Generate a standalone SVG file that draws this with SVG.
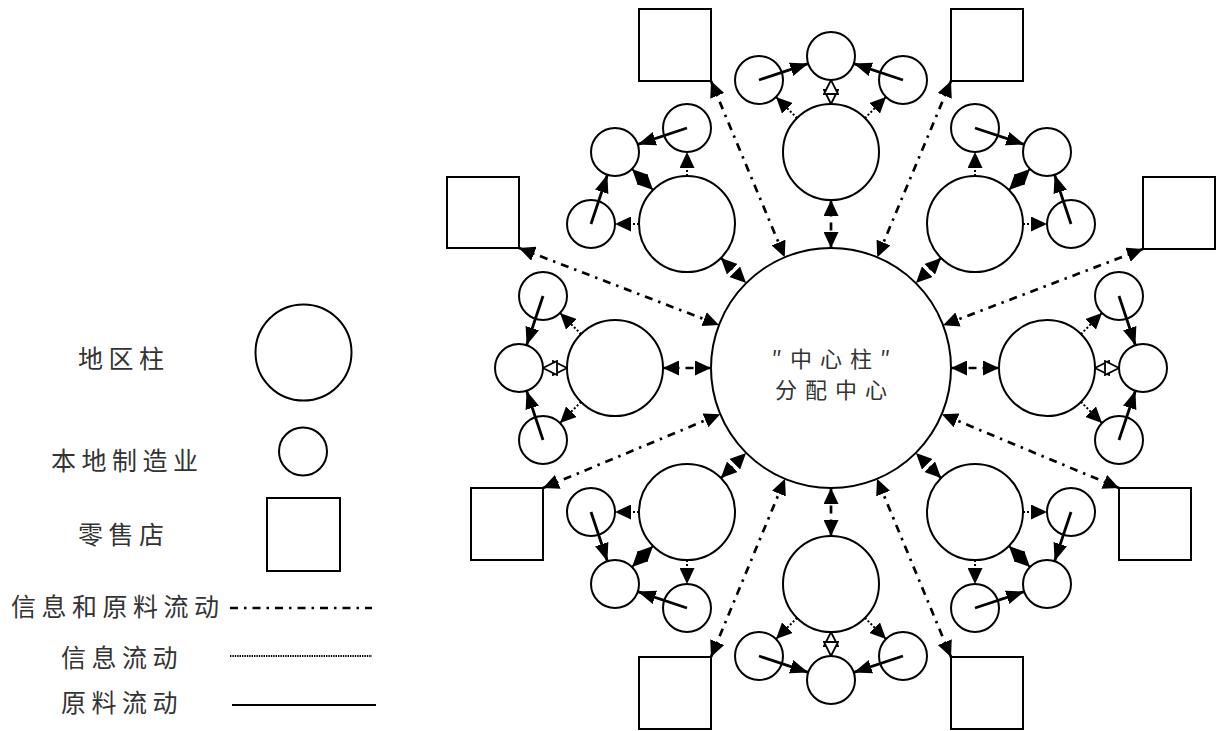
<svg xmlns="http://www.w3.org/2000/svg" width="1221" height="731" viewBox="0 0 1221 731">
<style>
.c{fill:#fff;stroke:#000;stroke-width:2}
.sq{fill:#fff;stroke:#000;stroke-width:2}
.t{font-family:"Noto Sans CJK SC","Noto Sans",sans-serif;font-size:25px;fill:#333;letter-spacing:5.5px}
.ct{font-family:"Noto Sans CJK SC","Noto Sans",sans-serif;font-size:22px;fill:#333;letter-spacing:8px;text-anchor:middle}
.dd{fill:none;stroke:#000;stroke-width:2.7;stroke-dasharray:8 6 2.5 6}
.dda{marker-start:url(#ah);marker-end:url(#ah)}
.inf{fill:none;stroke:#000;stroke-width:2;stroke-dasharray:2 2}
.infa{marker-end:url(#ah)}
.infb{marker-start:url(#ah);marker-end:url(#ah)}
.infh{marker-start:url(#hx);marker-end:url(#hx)}
.mat{fill:none;stroke:#000;stroke-width:2.8;marker-end:url(#am)}
.lg{fill:none;stroke:#000;stroke-width:2.2}
</style>
<defs>
<marker id="ah" viewBox="0 0 16 15" refX="16" refY="7.5" markerWidth="16" markerHeight="15" markerUnits="userSpaceOnUse" orient="auto-start-reverse"><path d="M0,0 L16,7.5 L0,15 z" fill="#000"/></marker>
<marker id="am" viewBox="0 0 18 14" refX="18" refY="7" markerWidth="18" markerHeight="14" markerUnits="userSpaceOnUse" orient="auto"><path d="M0,0 L18,7 L0,14 z" fill="#000"/></marker>
<marker id="hx" viewBox="0 0 16 16" refX="15" refY="8" markerWidth="16" markerHeight="16" markerUnits="userSpaceOnUse" orient="auto-start-reverse"><path d="M1,1 L15,8 L1,15 z" fill="#fff" stroke="#000" stroke-width="1.8"/></marker>
</defs>
<rect width="1221" height="731" fill="#fff"/>

<g id="center">
<circle class="c" cx="831" cy="368" r="120"/>
<text class="ct" x="835" y="367">″中心柱″</text>
<text class="ct" x="835" y="398">分配中心</text>
</g>

<g id="region-t"><circle class="c" cx="831" cy="152" r="48"/></g>
<g id="region-b"><circle class="c" cx="831" cy="584" r="48"/></g>
<g id="region-l"><circle class="c" cx="615" cy="368" r="48"/></g>
<g id="region-r"><circle class="c" cx="1047" cy="368" r="48"/></g>
<g id="region-tl"><circle class="c" cx="687" cy="224" r="48"/></g>
<g id="region-tr"><circle class="c" cx="975" cy="224" r="48"/></g>
<g id="region-bl"><circle class="c" cx="687" cy="512" r="48"/></g>
<g id="region-br"><circle class="c" cx="975" cy="512" r="48"/></g>

<g id="mfg-t1"><circle class="c" cx="831" cy="56" r="24"/></g>
<g id="mfg-t2"><circle class="c" cx="759" cy="80" r="24"/></g>
<g id="mfg-t3"><circle class="c" cx="903" cy="80" r="24"/></g>
<g id="mfg-b1"><circle class="c" cx="831" cy="680" r="24"/></g>
<g id="mfg-b2"><circle class="c" cx="759" cy="656" r="24"/></g>
<g id="mfg-b3"><circle class="c" cx="903" cy="656" r="24"/></g>
<g id="mfg-l1"><circle class="c" cx="519" cy="368" r="24"/></g>
<g id="mfg-l2"><circle class="c" cx="543" cy="296" r="24"/></g>
<g id="mfg-l3"><circle class="c" cx="543" cy="440" r="24"/></g>
<g id="mfg-r1"><circle class="c" cx="1143" cy="368" r="24"/></g>
<g id="mfg-r2"><circle class="c" cx="1119" cy="296" r="24"/></g>
<g id="mfg-r3"><circle class="c" cx="1119" cy="440" r="24"/></g>
<g id="mfg-tl1"><circle class="c" cx="615" cy="152" r="24"/></g>
<g id="mfg-tl2"><circle class="c" cx="687" cy="128" r="24"/></g>
<g id="mfg-tl3"><circle class="c" cx="591" cy="224" r="24"/></g>
<g id="mfg-tr1"><circle class="c" cx="1047" cy="152" r="24"/></g>
<g id="mfg-tr2"><circle class="c" cx="975" cy="128" r="24"/></g>
<g id="mfg-tr3"><circle class="c" cx="1071" cy="224" r="24"/></g>
<g id="mfg-bl1"><circle class="c" cx="615" cy="584" r="24"/></g>
<g id="mfg-bl2"><circle class="c" cx="591" cy="512" r="24"/></g>
<g id="mfg-bl3"><circle class="c" cx="687" cy="608" r="24"/></g>
<g id="mfg-br1"><circle class="c" cx="1047" cy="584" r="24"/></g>
<g id="mfg-br2"><circle class="c" cx="1071" cy="512" r="24"/></g>
<g id="mfg-br3"><circle class="c" cx="975" cy="608" r="24"/></g>

<g id="store-tl"><rect class="sq" x="639" y="9" width="72" height="72"/></g>
<g id="store-tr"><rect class="sq" x="951" y="9" width="72" height="72"/></g>
<g id="store-bl"><rect class="sq" x="639" y="657" width="72" height="72"/></g>
<g id="store-br"><rect class="sq" x="951" y="657" width="72" height="72"/></g>
<g id="store-lu"><rect class="sq" x="447" y="177" width="72" height="71"/></g>
<g id="store-ll"><rect class="sq" x="471" y="488" width="72" height="72"/></g>
<g id="store-ru"><rect class="sq" x="1143" y="177" width="72" height="72"/></g>
<g id="store-rl"><rect class="sq" x="1119" y="488" width="72" height="72"/></g>

<g id="connectors">
<line class="dd dda" x1="831" y1="200" x2="831" y2="248"/>
<line class="dd dda" x1="831" y1="536" x2="831" y2="488"/>
<line class="dd dda" x1="663" y1="368" x2="711" y2="368"/>
<line class="dd dda" x1="999" y1="368" x2="951" y2="368"/>
<line class="dd dda" x1="720.9" y1="257.9" x2="746.1" y2="283.1"/>
<line class="dd dda" x1="941.1" y1="257.9" x2="915.9" y2="283.1"/>
<line class="dd dda" x1="720.9" y1="478.1" x2="746.1" y2="452.9"/>
<line class="dd dda" x1="941.1" y1="478.1" x2="915.9" y2="452.9"/>
<line class="dd dda" x1="711" y1="81" x2="784.7" y2="257.3"/>
<line class="dd dda" x1="951" y1="81" x2="877.3" y2="257.3"/>
<line class="dd dda" x1="711" y1="657" x2="785" y2="478.8"/>
<line class="dd dda" x1="951" y1="657" x2="877" y2="478.8"/>
<line class="dd dda" x1="519" y1="248" x2="719" y2="324.9"/>
<line class="dd dda" x1="543" y1="488" x2="720.2" y2="414.2"/>
<line class="dd dda" x1="1143" y1="249" x2="943.1" y2="325.2"/>
<line class="dd dda" x1="1119" y1="488" x2="941.8" y2="414.2"/>
<line class="mat" x1="759" y1="80" x2="808.2" y2="63.6"/>
<line class="mat" x1="903" y1="80" x2="853.8" y2="63.6"/>
<line class="mat" x1="759" y1="656" x2="808.2" y2="672.4"/>
<line class="mat" x1="903" y1="656" x2="853.8" y2="672.4"/>
<line class="mat" x1="543" y1="296" x2="526.6" y2="345.2"/>
<line class="mat" x1="543" y1="440" x2="526.6" y2="390.8"/>
<line class="mat" x1="1119" y1="296" x2="1135.4" y2="345.2"/>
<line class="mat" x1="1119" y1="440" x2="1135.4" y2="390.8"/>
<line class="mat" x1="687" y1="128" x2="637.8" y2="144.4"/>
<line class="mat" x1="591" y1="224" x2="607.4" y2="174.8"/>
<line class="mat" x1="975" y1="128" x2="1024.2" y2="144.4"/>
<line class="mat" x1="1071" y1="224" x2="1054.6" y2="174.8"/>
<line class="mat" x1="591" y1="512" x2="607.4" y2="561.2"/>
<line class="mat" x1="687" y1="608" x2="637.8" y2="591.6"/>
<line class="mat" x1="1071" y1="512" x2="1054.6" y2="561.2"/>
<line class="mat" x1="975" y1="608" x2="1024.2" y2="591.6"/>
<line class="inf infa" x1="797.1" y1="118.1" x2="776" y2="97"/>
<line class="inf infa" x1="864.9" y1="118.1" x2="886" y2="97"/>
<line class="inf infa" x1="797.1" y1="617.9" x2="776" y2="639"/>
<line class="inf infa" x1="864.9" y1="617.9" x2="886" y2="639"/>
<line class="inf infa" x1="581.1" y1="334.1" x2="560" y2="313"/>
<line class="inf infa" x1="581.1" y1="401.9" x2="560" y2="423"/>
<line class="inf infa" x1="1080.9" y1="334.1" x2="1102" y2="313"/>
<line class="inf infa" x1="1080.9" y1="401.9" x2="1102" y2="423"/>
<line class="inf infa" x1="687" y1="176" x2="687" y2="152"/>
<line class="inf infa" x1="639" y1="224" x2="615" y2="224"/>
<line class="inf infa" x1="975" y1="176" x2="975" y2="152"/>
<line class="inf infa" x1="1023" y1="224" x2="1047" y2="224"/>
<line class="inf infa" x1="639" y1="512" x2="615" y2="512"/>
<line class="inf infa" x1="687" y1="560" x2="687" y2="584"/>
<line class="inf infa" x1="1023" y1="512" x2="1047" y2="512"/>
<line class="inf infa" x1="975" y1="560" x2="975" y2="584"/>
<line class="inf infh" x1="831" y1="104" x2="831" y2="80"/>
<line class="inf infh" x1="831" y1="632" x2="831" y2="656"/>
<line class="inf infh" x1="567" y1="368" x2="543" y2="368"/>
<line class="inf infh" x1="1095" y1="368" x2="1119" y2="368"/>
<line class="inf infb" x1="653.1" y1="190.1" x2="632" y2="169"/>
<line class="inf infb" x1="1008.9" y1="190.1" x2="1030" y2="169"/>
<line class="inf infb" x1="653.1" y1="545.9" x2="632" y2="567"/>
<line class="inf infb" x1="1008.9" y1="545.9" x2="1030" y2="567"/>
</g>

<g id="legend">
<g id="legend-region"><text class="t" x="78" y="368">地区柱</text><circle class="c" cx="303.5" cy="352.5" r="48"/></g>
<g id="legend-mfg"><text class="t" x="51" y="470">本地制造业</text><circle class="c" cx="303" cy="451.5" r="24"/></g>
<g id="legend-store"><text class="t" x="78" y="544">零售店</text><rect class="sq" x="267" y="498" width="73" height="73"/></g>
<g id="legend-both"><text class="t" x="11" y="616">信息和原料流动</text><line class="dd" x1="230" y1="608" x2="372" y2="608"/></g>
<g id="legend-info"><text class="t" x="61" y="667">信息流动</text><line class="lg" x1="230" y1="656" x2="372" y2="656" stroke-width="2.6" stroke-dasharray="1.4 1"/></g>
<g id="legend-mat"><text class="t" x="61" y="712">原料流动</text><line class="lg" x1="232" y1="705" x2="376" y2="705"/></g>
</g>
</svg>
